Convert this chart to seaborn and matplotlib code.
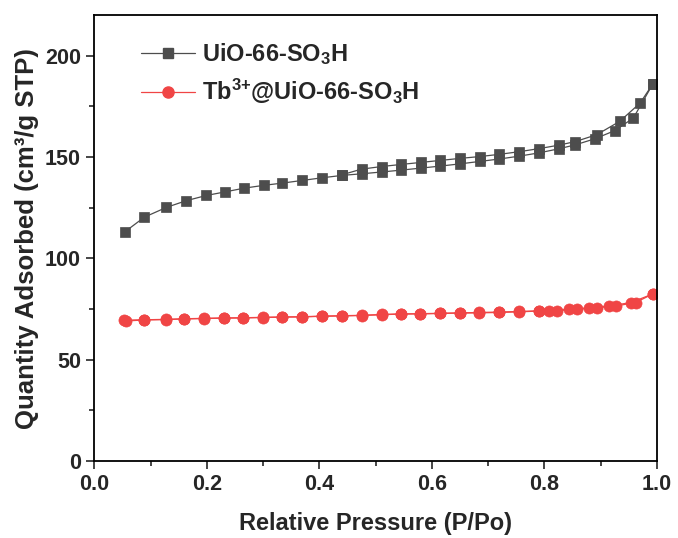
import numpy as np
import pandas as pd
import seaborn as sns
import matplotlib
matplotlib.use("Agg")
import matplotlib.pyplot as plt
from matplotlib.lines import Line2D
from matplotlib.ticker import MultipleLocator

# ---------------- data ----------------
uio_ads_x = [0.055, 0.089, 0.128, 0.163, 0.199, 0.233, 0.266, 0.301, 0.334, 0.369,
             0.404, 0.440, 0.475, 0.511, 0.545, 0.580, 0.615, 0.650, 0.685, 0.720,
             0.755, 0.790, 0.825, 0.855, 0.890, 0.925, 0.958, 0.993]
uio_ads_y = [113.2, 120.3, 125.1, 128.4, 131.0, 132.8, 134.6, 136.0, 137.1, 138.4,
             139.7, 140.9, 141.7, 142.6, 143.5, 144.5, 145.5, 146.6, 147.8, 149.0,
             150.4, 152.0, 154.0, 156.0, 159.0, 163.0, 169.2, 186.2]
uio_des_x = [0.993, 0.970, 0.934, 0.893, 0.855, 0.825, 0.790, 0.755, 0.720, 0.685,
             0.650, 0.615, 0.580, 0.545, 0.511, 0.475, 0.440]
uio_des_y = [186.2, 176.6, 167.6, 161.0, 157.6, 155.8, 154.1, 152.6, 151.3, 150.2,
             149.3, 148.3, 147.3, 146.3, 145.3, 144.0, 141.2]

tb_ads_x = [0.057, 0.089, 0.128, 0.160, 0.195, 0.230, 0.265, 0.300, 0.334, 0.369,
            0.404, 0.440, 0.475, 0.511, 0.545, 0.579, 0.615, 0.650, 0.684, 0.719,
            0.755, 0.790, 0.823, 0.858, 0.893, 0.927, 0.962, 0.993]
tb_ads_y = [69.1, 69.6, 69.8, 70.1, 70.3, 70.5, 70.6, 70.8, 71.0, 71.1,
            71.4, 71.6, 71.8, 72.2, 72.5, 72.6, 72.8, 73.0, 73.1, 73.3,
            73.6, 74.0, 74.2, 74.9, 75.6, 76.5, 78.2, 82.5]
tb_des_x = [0.993, 0.954, 0.915, 0.880, 0.844, 0.808, 0.790, 0.755, 0.719, 0.684,
            0.650, 0.615, 0.579, 0.545, 0.511, 0.475, 0.440, 0.404, 0.369, 0.334,
            0.300, 0.265, 0.230, 0.195, 0.160, 0.128, 0.089, 0.052]
tb_des_y = [82.5, 78.2, 76.5, 75.6, 74.9, 74.2, 74.1, 73.8, 73.5, 73.3,
            73.1, 72.9, 72.7, 72.6, 72.3, 71.9, 71.7, 71.5, 71.2, 71.1,
            70.9, 70.7, 70.6, 70.4, 70.2, 69.9, 69.7, 69.5]

labels = ["UiO-66-SO$_\\mathbf{3}$H", "Tb$^\\mathbf{3{+}}$@UiO-66-SO$_\\mathbf{3}$H"]

# ---------------- style ----------------
sns.set_style("ticks")
plt.rcParams["font.family"] = ["Liberation Sans", "DejaVu Sans"]
plt.rcParams["font.weight"] = "bold"
plt.rcParams["mathtext.fontset"] = "custom"
plt.rcParams["mathtext.rm"] = "Liberation Sans:bold"
plt.rcParams["mathtext.bf"] = "Liberation Sans:bold"
plt.rcParams["mathtext.default"] = "bf"

black = "#4d4d4d"
red = "#f04545"

fig = plt.figure(figsize=(6.78, 5.38), dpi=100)
ax = fig.add_axes([0.139, 0.143, 0.830, 0.829])

def branch(x, y, color, marker, ms):
    df = pd.DataFrame({"x": x, "y": y})
    sns.lineplot(data=df, x="x", y="y", sort=False, ax=ax, color=color, lw=0.9,
                 marker=marker, markersize=ms, markeredgecolor=color,
                 markerfacecolor=color, markeredgewidth=0.5)

branch(uio_ads_x, uio_ads_y, black, "s", 7.2)
branch(uio_des_x, uio_des_y, black, "s", 7.2)
branch(tb_ads_x, tb_ads_y, red, "o", 8)
branch(tb_des_x, tb_des_y, red, "o", 8)

ax.set_xlim(0, 1.0)
ax.set_ylim(0, 220)
ax.xaxis.set_major_locator(MultipleLocator(0.2))
ax.xaxis.set_minor_locator(MultipleLocator(0.1))
ax.yaxis.set_major_locator(MultipleLocator(50))
ax.yaxis.set_minor_locator(MultipleLocator(25))
ax.xaxis.set_major_formatter(matplotlib.ticker.FormatStrFormatter("%.1f"))
ax.tick_params(which="major", direction="out", length=6, width=1.2, labelsize=15.5)
ax.tick_params(which="minor", direction="out", length=3.5, width=1.2)
for s in ax.spines.values():
    s.set_linewidth(1.3)
    s.set_color("black")
for lab in ax.get_xticklabels() + ax.get_yticklabels():
    lab.set_fontweight("bold")

ax.set_xlabel("Relative Pressure (P/Po)", fontsize=17, fontweight="bold", labelpad=12)
ax.set_ylabel("Quantity Adsorbed (cm³/g STP)", fontsize=18.5, fontweight="bold", labelpad=4)

handles = [
    Line2D([], [], color=black, lw=0.9, marker="s", markersize=7, markerfacecolor=black, markeredgecolor=black),
    Line2D([], [], color=red, lw=0.9, marker="o", markersize=8, markerfacecolor=red, markeredgecolor=red),
]
leg = ax.legend(handles, labels, loc="upper left", bbox_to_anchor=(0.046, 0.99),
                frameon=False, handlelength=2.25, handletextpad=0.3,
                labelspacing=0.45, prop={"weight": "bold", "size": 17})

fig.savefig("out.png", dpi=100)
